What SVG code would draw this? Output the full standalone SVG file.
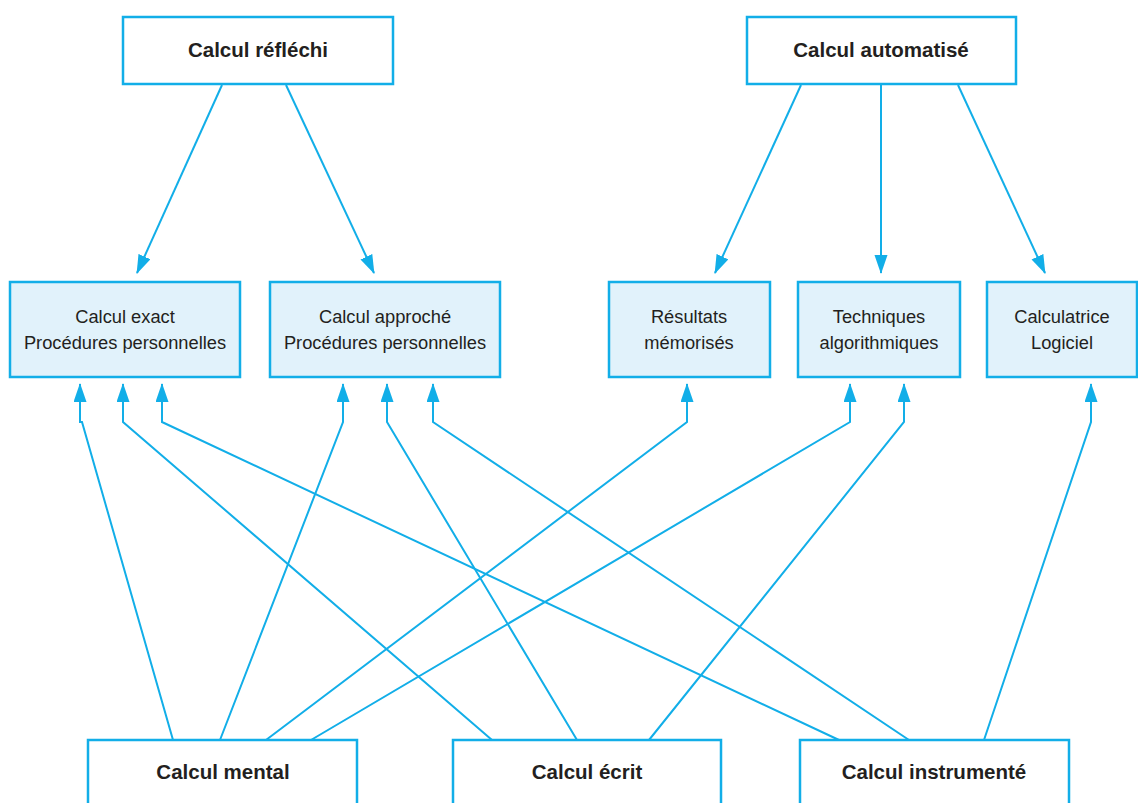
<svg xmlns="http://www.w3.org/2000/svg" width="1138" height="803" viewBox="0 0 1138 803">
<style>
.box{fill:#ffffff;stroke:#12aee8;stroke-width:2.5}
.sub{fill:#e1f2fb;stroke:#12aee8;stroke-width:2.5}
.b{font-family:"Liberation Sans",Arial,sans-serif;font-weight:bold;font-size:20.5px;fill:#231f20;text-anchor:middle}
.r{font-family:"Liberation Sans",Arial,sans-serif;font-size:18.3px;fill:#231f20;text-anchor:middle}
.c{fill:none;stroke:#12aee8;stroke-width:2}
</style>
<defs>
<marker id="ah" markerUnits="userSpaceOnUse" markerWidth="22" markerHeight="14" refX="18" refY="6.5" orient="auto">
<path d="M0,0 L19,6.5 L0,13 z" fill="#12aee8"/>
</marker>
</defs>
<g id="connectors">
<line class="c" x1="222" y1="85" x2="137" y2="273" marker-end="url(#ah)"/>
<line class="c" x1="286" y1="85" x2="374" y2="273" marker-end="url(#ah)"/>
<line class="c" x1="801" y1="85" x2="715" y2="273" marker-end="url(#ah)"/>
<line class="c" x1="881" y1="85" x2="881" y2="273" marker-end="url(#ah)"/>
<line class="c" x1="958" y1="85" x2="1045" y2="273" marker-end="url(#ah)"/>
<polyline class="c" points="173,740 82,422 80,422 80,384" marker-end="url(#ah)"/>
<polyline class="c" points="220,740 343,422 343,384" marker-end="url(#ah)"/>
<polyline class="c" points="266,740 687,422 687,384" marker-end="url(#ah)"/>
<polyline class="c" points="311,740 850,422 850,384" marker-end="url(#ah)"/>
<polyline class="c" points="492,740 123,422 123,384" marker-end="url(#ah)"/>
<polyline class="c" points="577,740 387,422 387,384" marker-end="url(#ah)"/>
<polyline class="c" points="649,740 904,422 904,384" marker-end="url(#ah)"/>
<polyline class="c" points="839,740 162,422 162,384" marker-end="url(#ah)"/>
<polyline class="c" points="909,740 433,422 433,384" marker-end="url(#ah)"/>
<polyline class="c" points="984,740 1091,422 1091,384" marker-end="url(#ah)"/>
</g>
<g id="calcul-reflechi"><rect class="box" x="123" y="17" width="270" height="67"/><text class="b" x="258" y="57">Calcul réfléchi</text></g>
<g id="calcul-automatise"><rect class="box" x="747" y="17" width="269" height="67"/><text class="b" x="881" y="57">Calcul automatisé</text></g>
<g id="calcul-exact"><rect class="sub" x="10" y="282" width="230" height="95"/><text class="r" x="125" y="323">Calcul exact</text><text class="r" x="125" y="349">Procédures personnelles</text></g>
<g id="calcul-approche"><rect class="sub" x="270" y="282" width="230" height="95"/><text class="r" x="385" y="323">Calcul approché</text><text class="r" x="385" y="349">Procédures personnelles</text></g>
<g id="resultats"><rect class="sub" x="609" y="282" width="161" height="95"/><text class="r" x="689" y="323">Résultats</text><text class="r" x="689" y="349">mémorisés</text></g>
<g id="techniques"><rect class="sub" x="798" y="282" width="162" height="95"/><text class="r" x="879" y="323">Techniques</text><text class="r" x="879" y="349">algorithmiques</text></g>
<g id="calculatrice"><rect class="sub" x="987" y="282" width="150" height="95"/><text class="r" x="1062" y="323">Calculatrice</text><text class="r" x="1062" y="349">Logiciel</text></g>
<g id="calcul-mental"><rect class="box" x="88" y="740" width="269" height="70"/><text class="b" x="223" y="779">Calcul mental</text></g>
<g id="calcul-ecrit"><rect class="box" x="453" y="740" width="268" height="70"/><text class="b" x="587" y="779">Calcul écrit</text></g>
<g id="calcul-instrumente"><rect class="box" x="800" y="740" width="269" height="70"/><text class="b" x="934" y="779">Calcul instrumenté</text></g>
</svg>
